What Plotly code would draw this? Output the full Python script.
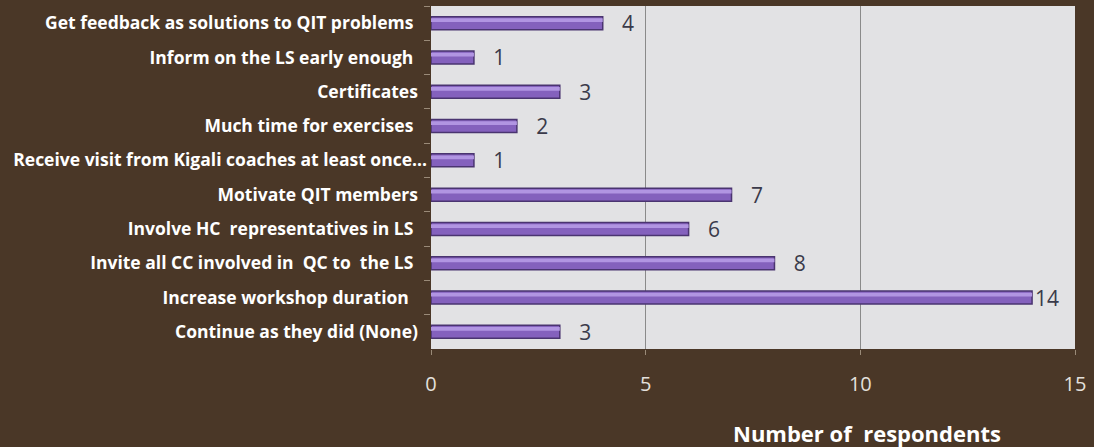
import plotly.graph_objects as go

# Suggestions, listed top to bottom
categories = [
    "Get feedback as solutions to QIT problems   ",
    "Inform on the LS early enough   ",
    "Certificates  ",
    "Much time for exercises   ",
    "Receive visit from Kigali coaches at least once...",
    "Motivate QIT members  ",
    "Involve HC  representatives in LS   ",
    "Invite all CC involved in  QC to  the LS   ",
    "Increase workshop duration    ",
    "Continue as they did (None)  ",
]
respondents = [4, 1, 3, 2, 1, 7, 6, 8, 14, 3]
x_ticks = [0, 5, 10, 15]

top = max(respondents)
labels = [("   " if v < top else "") + str(v) for v in respondents]

fig = go.Figure()

# main bar body
fig.add_trace(
    go.Bar(
        x=respondents,
        y=categories,
        orientation="h",
        marker=dict(color="#8461bd", line=dict(color="#4a3470", width=1.5)),
        text=labels,
        textposition="outside",
        constraintext="none",
        textfont=dict(family="Open Sans", size=21, color="#3a3a4a"),
        cliponaxis=False,
        width=0.38,
        hoverinfo="skip",
    )
)
# lighter upper sheen for a rounded look
fig.add_trace(
    go.Bar(
        x=respondents,
        y=categories,
        orientation="h",
        marker=dict(color="#b195e2", line=dict(width=0)),
        width=0.11,
        offset=-0.14,
        hoverinfo="skip",
    )
)

fig.update_layout(
    width=1094,
    height=447,
    margin=dict(l=431, r=19, t=6, b=98, autoexpand=False),
    paper_bgcolor="#4a3727",
    plot_bgcolor="#e2e2e4",
    showlegend=False,
    barmode="overlay",
    xaxis=dict(
        range=[0, 15],
        tickvals=x_ticks,
        showgrid=True,
        gridcolor="#8a8a8a",
        gridwidth=1,
        zeroline=False,
        ticks="outside",
        ticklen=5,
        tickcolor="#9a8a78",
        tickfont=dict(family="Open Sans", size=20, color="#e4e0dc"),
        ticklabelstandoff=12,
        automargin=False,
    ),
    yaxis=dict(
        autorange="reversed",
        ticks="outside",
        tickson="boundaries",
        ticklen=6,
        tickcolor="#9a8a78",
        showgrid=False,
        tickfont=dict(family="Open Sans", size=17.5, color="#ffffff", weight="bold"),
        ticklabelstandoff=3,
        automargin=False,
    ),
    annotations=[
        dict(
            text="<b>Number of  respondents</b>",
            xref="paper",
            yref="paper",
            x=0.677,
            y=-0.245,
            xanchor="center",
            yanchor="middle",
            showarrow=False,
            font=dict(family="Open Sans", size=22, color="#ffffff"),
        )
    ],
)

fig.write_html("out.html")
